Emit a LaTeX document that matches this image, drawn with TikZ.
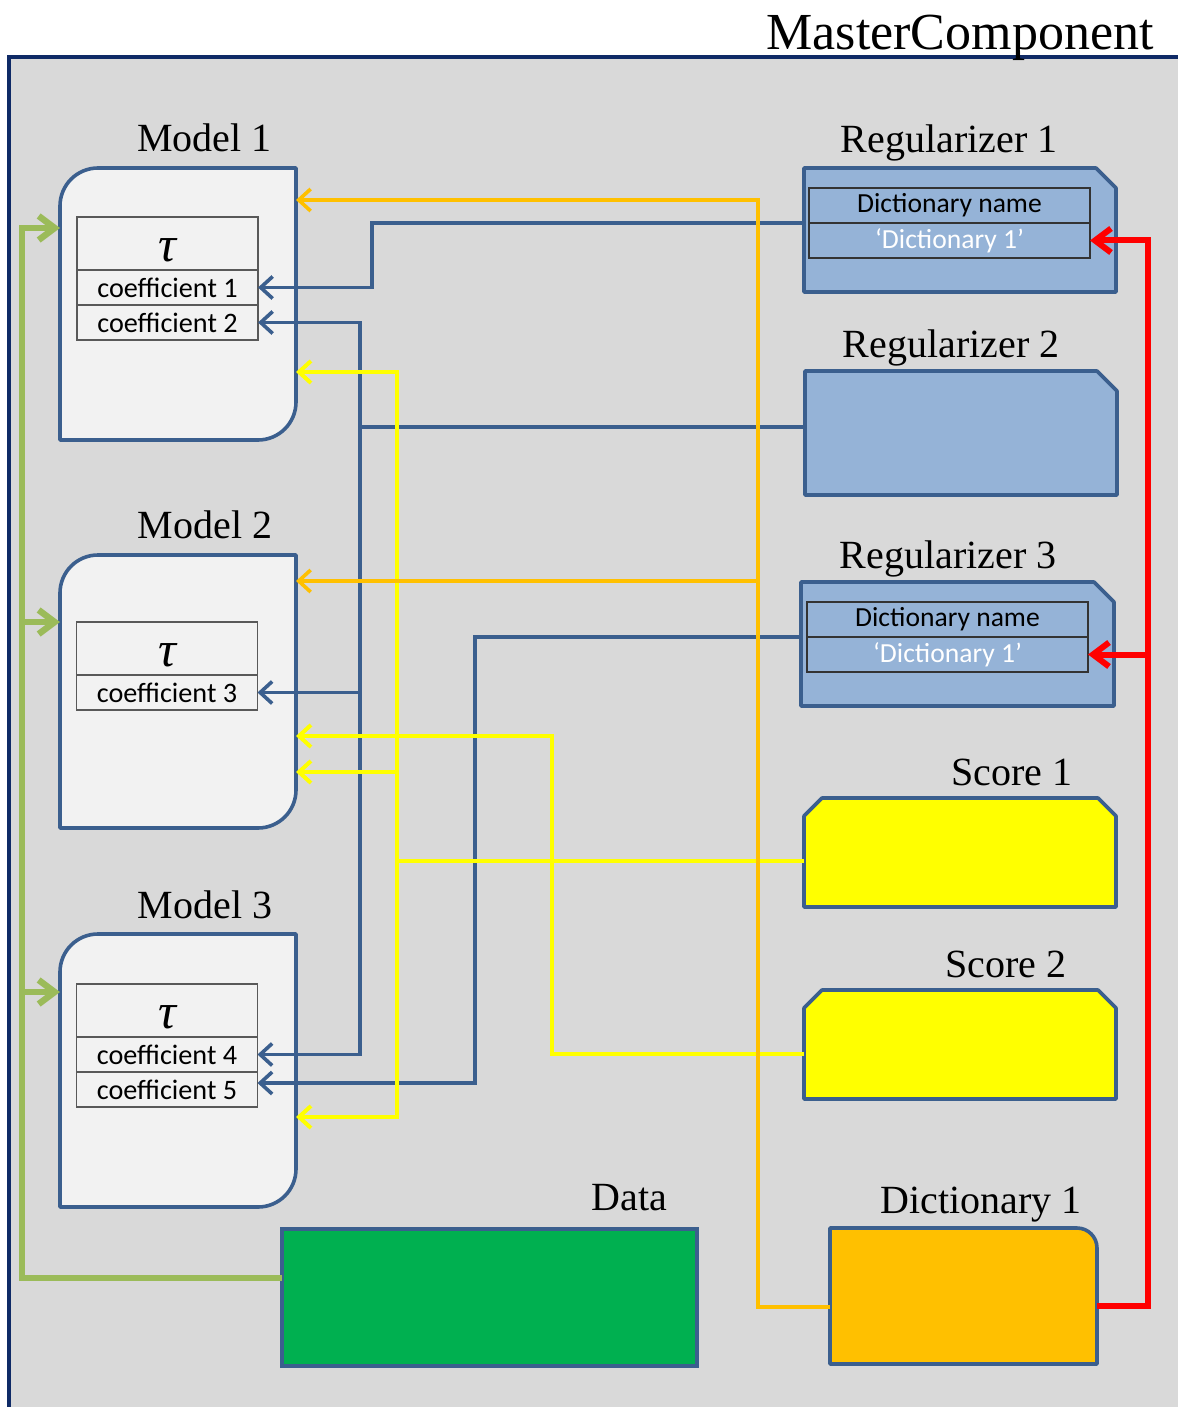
\documentclass[tikz,border=0pt]{standalone}
\usepackage{fontspec}
\setmainfont{Liberation Serif}
\newfontfamily\calib{Carlito}
\usetikzlibrary{arrows.meta,calc}
\definecolor{bgc}{HTML}{D9D9D9}
\definecolor{navy}{HTML}{0F2A66}
\definecolor{boxblue}{HTML}{3B5F8E}
\definecolor{regfill}{HTML}{95B3D7}
\definecolor{modfill}{HTML}{F2F2F2}
\definecolor{tabline}{HTML}{595959}
\definecolor{ylw}{HTML}{FFFF00}
\definecolor{orng}{HTML}{FFC000}
\definecolor{grn}{HTML}{9BBB59}
\definecolor{datagreen}{HTML}{00B050}
\definecolor{redc}{HTML}{FF0000}
\begin{document}
\begin{tikzpicture}[x=0.5pt,y=-0.5pt,
  area/.style={inner sep=0pt,outer sep=0pt,draw=none,rectangle},
  lab/.style={inner sep=0pt,anchor=base,font=\fontsize{20}{20}\selectfont},
  cell/.style={inner sep=0pt,outer sep=0pt,draw=tabline,line width=0.7pt,minimum width=90.5pt,font=\calib\fontsize{14.1}{15}\selectfont},
  taucell/.style={cell,minimum height=26.5pt,text height=18pt,text depth=0pt,font=\fontsize{25}{25}\selectfont\itshape},
  coefcell/.style={cell,minimum height=17.5pt},
  regcell/.style={inner sep=0pt,outer sep=0pt,draw=black!80,line width=0.7pt,minimum width=140.5pt,minimum height=17.5pt,font=\calib\fontsize{13.8}{14}\selectfont},
  boxline/.style={draw=boxblue,line width=1.8pt,line join=round},
  bl/.style={draw=boxblue,line width=1.8pt},
  yl/.style={draw=ylw,line width=2pt},
  orl/.style={draw=orng,line width=1.8pt},
  rdl/.style={draw=redc,line width=3pt},
  grl/.style={draw=grn,line width=3.2pt},
  tipS/.style={-{Straight Barb[length=6pt,width=11pt]}},
  tipSS/.style={{Straight Barb[length=6pt,width=11pt]}-{Straight Barb[length=6pt,width=11pt]}},
  tipR/.style={-{Straight Barb[length=8pt,width=12pt]}},
  tipG/.style={-{Straight Barb[length=8pt,width=12pt]}},
]
\useasboundingbox (0,0) rectangle (1178,1407);
% panel
\fill[bgc] (9,57) rectangle (1178,1407);
\draw[navy,line width=1.6pt] (9,1407) -- (9,57) -- (1178,57);
\node[inner sep=0pt,anchor=base,font=\fontsize{26}{26}\selectfont] (title) at (960,50) {MasterComponent};

% ---------- Models ----------
\node[area,minimum width=118pt,minimum height=136pt] (m1) at (178,304) {};
\node[area,minimum width=118pt,minimum height=136.5pt] (m2) at (178,691.5) {};
\node[area,minimum width=118pt,minimum height=136.5pt] (m3) at (178,1070.5) {};
\foreach \m in {m1,m2,m3}{
  \filldraw[boxline,fill=modfill] (\m.north east) -- ([yshift=19pt]\m.south east)
    arc[start angle=0,end angle=-90,radius=19pt] -- (\m.south west)
    -- ([yshift=-19pt]\m.north west) arc[start angle=180,end angle=90,radius=19pt] -- cycle;
}
\node[lab] (lm1) at (204.5,152) {Model 1};
\node[lab] (lm2) at (205,538) {Model 2};
\node[lab] (lm3) at (205,918) {Model 3};

\node[taucell] (t1) at (167.5,243.5) {τ};
\node[coefcell] (c1) at (167.5,287.5) {coefficient 1};
\node[coefcell] (c2) at (167.5,322.5) {coefficient 2};
\node[taucell] (t2) at (167,648.5) {τ};
\node[coefcell] (c3) at (167,692.5) {coefficient 3};
\node[taucell] (t3) at (167,1010.5) {τ};
\node[coefcell] (c4) at (167,1054.5) {coefficient 4};
\node[coefcell] (c5) at (167,1089.5) {coefficient 5};

% ---------- Regularizers ----------
\node[area,minimum width=156pt,minimum height=62pt] (r1) at (960,230) {};
\node[area,minimum width=156pt,minimum height=62pt] (r2) at (961,433) {};
\node[area,minimum width=156.5pt,minimum height=62pt] (r3) at (957.5,644) {};
\foreach \r in {r1,r2,r3}{
  \filldraw[boxline,fill=regfill] (\r.south west) -- (\r.north west) -- ([xshift=-10pt]\r.north east)
    -- ([yshift=-10pt]\r.north east) -- (\r.south east) -- cycle;
}
\node[lab] (lr1) at (949,153) {Regularizer 1};
\node[lab] (lr2) at (951,357) {Regularizer 2};
\node[lab] (lr3) at (948,568) {Regularizer 3};
\node[regcell] (r1a) at (949.5,205.5) {Dictionary name};
\node[regcell,text=white] (r1b) at (949.5,240.5) {‘Dictionary 1’};
\node[regcell] (r3a) at (947.5,619.5) {Dictionary name};
\node[regcell,text=white] (r3b) at (947.5,654.5) {‘Dictionary 1’};

% ---------- Scores ----------
\node[area,minimum width=156pt,minimum height=54.5pt] (s1) at (960,852.5) {};
\node[area,minimum width=156pt,minimum height=54.5pt] (s2) at (960,1044.5) {};
\foreach \s in {s1,s2}{
  \filldraw[boxline,fill=ylw] (\s.south west) -- ([yshift=-9pt]\s.north west) -- ([xshift=9pt]\s.north west)
    -- ([xshift=-9pt]\s.north east) -- ([yshift=-9pt]\s.north east) -- (\s.south east) -- cycle;
}
\node[lab] (ls1) at (1012,785) {Score 1};
\node[lab] (ls2) at (1006,977) {Score 2};

% ---------- Data ----------
\node[area,minimum width=207.5pt,minimum height=68.5pt,fill=datagreen,draw=boxblue,line width=1.8pt] (dt) at (489.5,1297.5) {};
\node[lab] (ldt) at (629.5,1210) {Data};

% ---------- Dictionary 1 ----------
\node[area,minimum width=133.5pt,minimum height=68pt] (d1) at (963.5,1296) {};
\filldraw[boxline,fill=orng] (d1.south west) -- (d1.north west) -- ([xshift=-10pt]d1.north east)
  arc[start angle=90,end angle=0,radius=10pt] -- (d1.south east) -- cycle;
\node[lab] (ld1) at (981,1213) {Dictionary 1};

% ---------- bus coordinates and ports ----------
\coordinate (bA) at (372,0);
\coordinate (bB) at (360,0);
\coordinate (bC) at (475,0);
\coordinate (yA) at (397,0);
\coordinate (yB) at (552,0);
\coordinate (oA) at (758,0);
\coordinate (rA) at (1148,0);
\coordinate (gA) at (22,0);
\coordinate (m1o) at ($(m1.north east)+(0,32)$);
\coordinate (m2o) at ($(m2.north east)+(0,26)$);
\coordinate (m1y) at ($(m1.north east)+(0,204)$);
\coordinate (m2y1) at ($(m2.north east)+(0,181)$);
\coordinate (m2y2) at ($(m2.north east)+(0,217)$);
\coordinate (m3y) at ($(m3.north east)+(0,183)$);
\coordinate (m1g) at ($(m1.north west)+(0,60)$);
\coordinate (m2g) at ($(m2.north west)+(0,67)$);
\coordinate (m3g) at ($(m3.north west)+(0,58)$);
\coordinate (d1o) at ($(d1.north west)+(0,79)$);
\coordinate (d1r) at ($(d1.north east)+(0,78)$);
\coordinate (dtg) at ($(dt.north west)+(0,49)$);
\coordinate (s1y) at ($(s1.north west)+(0,63)$);
\coordinate (s2y) at ($(s2.north west)+(0,64)$);
\coordinate (r2p) at ($(r2.north west)+(0,56)$);
\coordinate (c5p) at ($(c5.east)+(0,-6.5)$);

% ---------- blue connectors ----------
\draw[bl,tipS] (r1a.south -| r1.west) -| (bA |- c1.east) -- (c1.east);
\draw[bl,tipSS] (c2.east) -| (bB |- c4.east) -- (c4.east);
\draw[bl] (r2p) -- (bB |- r2p);
\draw[bl,tipS] (bB |- c3.east) -- (c3.east);
\draw[bl,tipS] (r3a.south -| r3.west) -| (bC |- c5p) -- (c5p);

% ---------- yellow connectors ----------
\draw[yl,tipSS] (m1y) -| (yA |- m3y) -- (m3y);
\draw[yl,tipS] (yA |- m2y2) -- (m2y2);
\draw[yl] (s1y) -- (yA |- s1y);
\draw[yl,tipS] (s2y) -| (yB |- m2y1) -- (m2y1);

% ---------- orange connectors ----------
\draw[orl,tipS] (d1o) -| (oA |- m1o) -- (m1o);
\draw[orl,tipS] (oA |- m2o) -- (m2o);

% ---------- red connectors ----------
\draw[rdl,tipR] (d1r) -| (rA |- r1b.east) -- (r1b.east);
\draw[rdl,tipR] (rA |- r3b.east) -- (r3b.east);

% ---------- green connectors ----------
\draw[grl,tipG] (dtg) -| (gA |- m1g) -- (m1g);
\draw[grl,tipG] (gA |- m2g) -- (m2g);
\draw[grl,tipG] (gA |- m3g) -- (m3g);
\end{tikzpicture}
\end{document}
